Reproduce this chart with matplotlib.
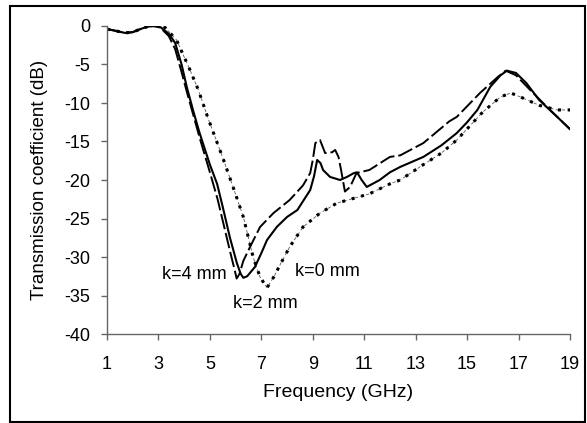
import numpy as np
import matplotlib.pyplot as plt
from matplotlib.patches import Rectangle

plt.rcParams["font.family"] = ["Liberation Sans", "DejaVu Sans"]
plt.rcParams["axes.unicode_minus"] = False

# k=2 mm (solid)
F_K2 = [1.0, 1.3, 1.7, 2.0, 2.3, 2.6, 2.9, 3.1, 3.4, 3.65, 3.9, 4.1, 4.35, 4.6,
        5.0, 5.28, 5.5, 5.78, 6.05, 6.2, 6.3, 6.45, 6.75, 7.0, 7.22, 7.6, 8.0,
        8.4, 8.9, 9.05, 9.17, 9.3, 9.4, 9.67, 10.06, 10.33, 10.6, 10.72, 10.9,
        11.1, 11.6, 12.0, 12.4, 13.3, 14.0, 14.6, 15.0, 15.4, 15.9, 16.3, 16.55,
        16.9, 17.3, 17.8, 18.5, 19.0]
S_K2 = [-0.4, -0.6, -0.9, -0.8, -0.4, -0.05, 0.0, -0.2, -1.0, -2.2, -5.0, -7.9,
        -11.0, -13.9, -18.0, -20.5, -23.5, -27.5, -30.8, -32.2, -32.7, -32.5,
        -31.3, -29.5, -27.8, -26.1, -24.8, -23.9, -21.3, -19.5, -17.4, -17.8,
        -18.7, -19.6, -20.0, -19.6, -19.1, -19.0, -20.0, -20.9, -20.0, -19.0,
        -18.3, -17.0, -15.5, -13.9, -12.5, -10.9, -7.9, -6.4, -5.8, -6.1, -7.4,
        -9.6, -11.8, -13.4]

# k=4 mm (long dash)
F_K4 = [1.0, 1.3, 1.7, 2.0, 2.3, 2.6, 2.9, 3.1, 3.4, 3.65, 3.9, 4.1, 4.35, 4.6,
        5.0, 5.3, 5.55, 5.8, 5.95, 6.04, 6.15, 6.3, 6.56, 6.95, 7.47, 8.1, 8.62,
        8.9, 9.0, 9.1, 9.28, 9.48, 9.75, 9.87, 10.0, 10.1, 10.25, 10.45, 10.7,
        11.2, 12.0, 12.4, 13.3, 14.3, 14.6, 15.5, 16.2, 16.5, 16.9, 17.45, 18.1,
        19.0]
S_K4 = [-0.4, -0.6, -0.9, -0.8, -0.4, -0.05, 0.0, -0.3, -1.3, -3.0, -6.0, -8.5,
        -11.5, -14.5, -19.0, -22.5, -26.0, -29.5, -31.5, -32.8, -32.2, -30.5,
        -28.7, -26.1, -24.3, -22.6, -20.7, -19.1, -17.4, -15.2, -14.8, -16.5,
        -16.4, -16.1, -17.0, -18.7, -21.5, -20.9, -19.1, -18.7, -17.0, -16.8,
        -15.2, -12.4, -11.8, -8.7, -6.6, -5.8, -6.4, -8.3, -10.5, -13.4]

# k=0 mm (dotted)
F_K0 = [1.0, 1.3, 1.7, 2.0, 2.3, 2.6, 2.9, 3.2, 3.7, 4.2, 4.55, 4.93, 5.5, 5.9,
        6.3, 6.68, 6.95, 7.22, 7.5, 7.73, 8.1, 8.62, 9.28, 9.94, 11.2, 12.0,
        12.4, 13.3, 14.0, 14.6, 15.1, 15.6, 16.3, 16.7, 17.2, 17.8, 18.5, 19.0]
S_K0 = [-0.4, -0.6, -0.9, -0.8, -0.4, -0.05, 0.0, 0.0, -1.8, -5.5, -8.3, -12.0,
        -17.1, -20.9, -24.8, -30.0, -32.6, -34.0, -32.5, -31.0, -28.7, -26.1,
        -24.3, -23.0, -21.8, -20.5, -20.0, -18.0, -16.5, -14.8, -13.0, -11.2,
        -9.2, -8.7, -9.4, -10.3, -10.9, -10.9]

X_TICKS = [1, 3, 5, 7, 9, 11, 13, 15, 17, 19]
Y_TICKS = [0, -5, -10, -15, -20, -25, -30, -35, -40]

fig = plt.figure(figsize=(5.87, 4.23), dpi=100)
ax = fig.add_axes([107 / 587, 1 - 334 / 423, 463 / 587, 308 / 423])

ax.plot(F_K0, S_K0, color="0.35", linewidth=0.6, dashes=(4, 3))
ax.plot(F_K0, S_K0, color="black", linewidth=2.2, dashes=(1, 2.2))
ax.plot(F_K4, S_K4, color="black", linewidth=1.4, dashes=(8, 2))
ax.plot(F_K2, S_K2, color="black", linewidth=1.5)

ax.text(5.67, -32.3, "k=4 mm", ha="right", va="center", fontsize=13)
ax.text(5.9, -36.1, "k=2 mm", ha="left", va="center", fontsize=13)
ax.text(8.31, -31.9, "k=0 mm", ha="left", va="center", fontsize=13)

ax.set_xlim(1, 19)
ax.set_ylim(-40, 0)
ax.set_xticks(X_TICKS)
ax.set_yticks(Y_TICKS)
ax.tick_params(direction="out", length=4, width=1, color="0.4", labelsize=13)
ax.tick_params(axis="y", pad=8)
ax.tick_params(axis="x", pad=12)
for side in ["top", "right"]:
    ax.spines[side].set_visible(False)
for side in ["left", "bottom"]:
    ax.spines[side].set_color("0.4")
    ax.spines[side].set_linewidth(1)

ax.set_xlabel("Frequency (GHz)", fontsize=14, labelpad=8)
ax.set_ylabel("Transmission coefficient (dB)", fontsize=13.5, labelpad=12)

fig.patches.append(Rectangle((10 / 587, 1 - 422 / 423), 575 / 587, 416 / 423,
                             transform=fig.transFigure, fill=False,
                             edgecolor="black", linewidth=1.5))

fig.savefig("out.png", dpi=100, facecolor="white")
